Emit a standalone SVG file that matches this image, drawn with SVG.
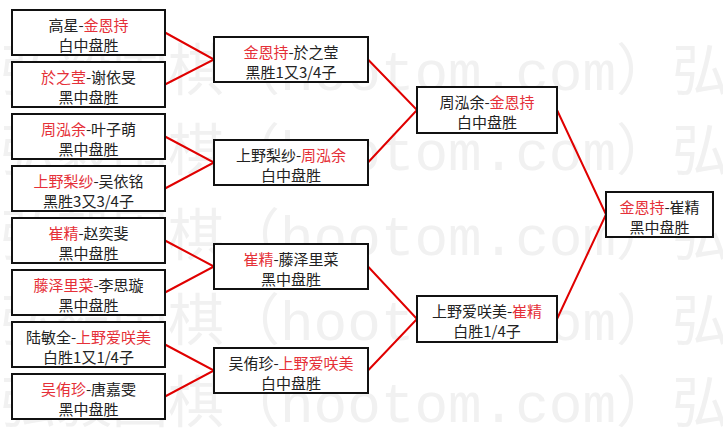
<svg xmlns="http://www.w3.org/2000/svg" width="723" height="429" viewBox="0 0 723 429">
<style>
.bg{fill:#ffffff}
.wm{font-family:"Liberation Mono","Noto Sans CJK SC",monospace;font-size:56px;fill:#f1f1f1}
.box{fill:#ffffff;stroke:#111111;stroke-width:2}
.t{font-family:"Noto Sans CJK SC",sans-serif;font-size:15px;fill:#222222;text-anchor:middle}
.r{fill:#e53038}
.link{stroke:#e00000;stroke-width:2;fill:none}
</style>
<rect class="bg" x="0" y="0" width="723" height="429"/>
<g id="watermark" class="wm">
<text x="0" y="90">弘毅围棋（hootom.com）弘</text>
<text x="0" y="170">弘毅围棋（hootom.com）弘</text>
<text x="0" y="255">弘毅围棋（hootom.com）弘</text>
<text x="0" y="340">弘毅围棋（hootom.com）弘</text>
<text x="0" y="422">弘毅围棋（hootom.com）弘</text>
</g>
<g id="connectors" class="link">
<polyline points="165,32.5 214,59.5 165,84.5"/>
<polyline points="165,136.5 214,162.5 165,188.5"/>
<polyline points="165,240.5 214,266.5 165,292.5"/>
<polyline points="165,344.5 214,370.5 165,396.5"/>
<polyline points="368,59.5 417,110 368,162.5"/>
<polyline points="368,266.5 417,319 368,370.5"/>
<polyline points="557,110 606,214.5 557,319"/>
</g>
<g id="r1-1"><rect class="box" x="12" y="10" width="153" height="45"/>
<text class="t" x="88.5" y="31">高星-<tspan class="r">金恩持</tspan></text>
<text class="t" x="88.5" y="50.5">白中盘胜</text></g>
<g id="r1-2"><rect class="box" x="12" y="62" width="153" height="45"/>
<text class="t" x="88.5" y="83"><tspan class="r">於之莹</tspan>-谢依旻</text>
<text class="t" x="88.5" y="102.5">黑中盘胜</text></g>
<g id="r1-3"><rect class="box" x="12" y="114" width="153" height="45"/>
<text class="t" x="88.5" y="135"><tspan class="r">周泓余</tspan>-叶子萌</text>
<text class="t" x="88.5" y="154.5">黑中盘胜</text></g>
<g id="r1-4"><rect class="box" x="12" y="166" width="153" height="45"/>
<text class="t" x="88.5" y="187"><tspan class="r">上野梨纱</tspan>-吴依铭</text>
<text class="t" x="88.5" y="206.5">黑胜3又3/4子</text></g>
<g id="r1-5"><rect class="box" x="12" y="218" width="153" height="45"/>
<text class="t" x="88.5" y="239"><tspan class="r">崔精</tspan>-赵奕斐</text>
<text class="t" x="88.5" y="258.5">黑中盘胜</text></g>
<g id="r1-6"><rect class="box" x="12" y="270" width="153" height="45"/>
<text class="t" x="88.5" y="291"><tspan class="r">藤泽里菜</tspan>-李思璇</text>
<text class="t" x="88.5" y="310.5">黑中盘胜</text></g>
<g id="r1-7"><rect class="box" x="12" y="322" width="153" height="45"/>
<text class="t" x="88.5" y="343">陆敏全-<tspan class="r">上野爱咲美</tspan></text>
<text class="t" x="88.5" y="362.5">白胜1又1/4子</text></g>
<g id="r1-8"><rect class="box" x="12" y="374" width="153" height="45"/>
<text class="t" x="88.5" y="395"><tspan class="r">吴侑珍</tspan>-唐嘉雯</text>
<text class="t" x="88.5" y="414.5">黑中盘胜</text></g>
<g id="r2-1"><rect class="box" x="214" y="37" width="154" height="45"/>
<text class="t" x="291" y="58"><tspan class="r">金恩持</tspan>-於之莹</text>
<text class="t" x="291" y="77.5">黑胜1又3/4子</text></g>
<g id="r2-2"><rect class="box" x="214" y="140" width="154" height="45"/>
<text class="t" x="291" y="161">上野梨纱-<tspan class="r">周泓余</tspan></text>
<text class="t" x="291" y="180.5">白中盘胜</text></g>
<g id="r2-3"><rect class="box" x="214" y="244" width="154" height="45"/>
<text class="t" x="291" y="265"><tspan class="r">崔精</tspan>-藤泽里菜</text>
<text class="t" x="291" y="284.5">黑中盘胜</text></g>
<g id="r2-4"><rect class="box" x="214" y="348" width="154" height="45"/>
<text class="t" x="291" y="369">吴侑珍-<tspan class="r">上野爱咲美</tspan></text>
<text class="t" x="291" y="388.5">白中盘胜</text></g>
<g id="r3-1"><rect class="box" x="417" y="87" width="140" height="46"/>
<text class="t" x="487" y="108">周泓余-<tspan class="r">金恩持</tspan></text>
<text class="t" x="487" y="128">白中盘胜</text></g>
<g id="r3-2"><rect class="box" x="417" y="296" width="140" height="46"/>
<text class="t" x="487" y="317">上野爱咲美-<tspan class="r">崔精</tspan></text>
<text class="t" x="487" y="337">白胜1/4子</text></g>
<g id="final"><rect class="box" x="606" y="192" width="107" height="45"/>
<text class="t" x="659.5" y="213"><tspan class="r">金恩持</tspan>-崔精</text>
<text class="t" x="659.5" y="232.5">黑中盘胜</text></g>
</svg>
